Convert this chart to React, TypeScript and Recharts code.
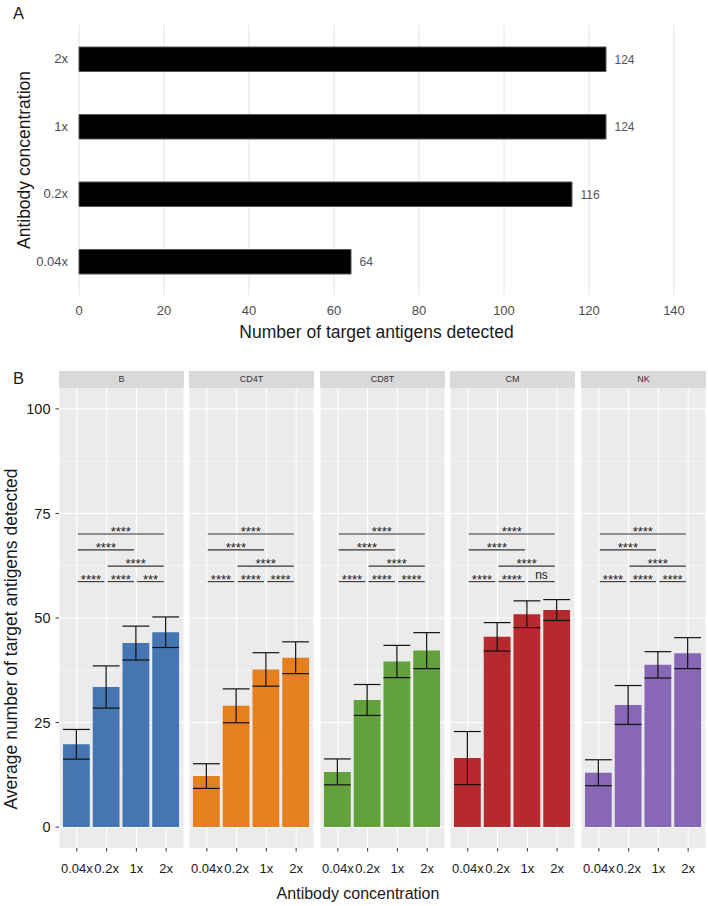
import React from 'react';
import { BarChart, Bar, XAxis, YAxis, CartesianGrid, ErrorBar, LabelList, ReferenceLine } from 'recharts';

// ---------- Panel A data ----------
const concentrations = ['0.04x', '0.2x', '1x', '2x'];
const antigenCounts = [64, 116, 124, 124];
const countTicks = [0, 20, 40, 60, 80, 100, 120, 140];

// ---------- Panel B data ----------
const cellTypes = ['B', 'CD4T', 'CD8T', 'CM', 'NK'];
const cellColors = ['#4676b2', '#e6801f', '#62a13b', '#b8292f', '#8767b6'];
const meanB = [19.8, 33.5, 44.0, 46.6];
const meanCD4T = [12.2, 29.0, 37.7, 40.5];
const meanCD8T = [13.2, 30.4, 39.6, 42.2];
const meanCM = [16.5, 45.5, 50.9, 51.9];
const meanNK = [13.0, 29.2, 38.8, 41.6];
const sdB = [3.55, 5.05, 4.05, 3.65];
const sdCD4T = [2.95, 4.05, 4.0, 3.8];
const sdCD8T = [3.1, 3.7, 3.85, 4.3];
const sdCM = [6.35, 3.4, 3.2, 2.5];
const sdNK = [3.1, 4.65, 3.15, 3.7];
const avgTicks = [0, 25, 50, 75, 100];
const avgMinorTicks = [12.5, 37.5, 62.5, 87.5];

// significance comparisons (indices into concentrations) and bracket heights
const compFrom = [0, 1, 2, 1, 0, 0];
const compTo = [1, 2, 3, 3, 2, 3];
const compY = [58.7, 58.7, 58.7, 62.4, 66.3, 70.1];
const sigB = ['****', '****', '***', '****', '****', '****'];
const sigCD4T = ['****', '****', '****', '****', '****', '****'];
const sigCD8T = ['****', '****', '****', '****', '****', '****'];
const sigCM = ['****', '****', 'ns', '****', '****', '****'];
const sigNK = ['****', '****', '****', '****', '****', '****'];

const means = [meanB, meanCD4T, meanCD8T, meanCM, meanNK];
const sds = [sdB, sdCD4T, sdCD8T, sdCM, sdNK];
const sigLabels = [sigB, sigCD4T, sigCD8T, sigCM, sigNK];

const FONT = '"Liberation Sans", Arial, Helvetica, sans-serif';
const PANEL_W = 125;
const PANEL_LEFTS = [59, 189, 320, 450, 581];
const PANEL_TOP = 388;
const PANEL_H = 460;

const rotatedTitle = (text: string, dx: number, dy: number, fontSize: number) => (props: any) => {
  const vb = props.viewBox || { x: 0, y: 0, width: 0, height: 0 };
  const cx = vb.x + dx;
  const cy = vb.y + vb.height / 2 + dy;
  return (
    <text
      x={cx}
      y={cy}
      transform={`rotate(-90 ${cx} ${cy})`}
      textAnchor="middle"
      dominantBaseline="central"
      fontSize={fontSize}
      fill="#1a1a1a"
    >
      {text}
    </text>
  );
};

const sigLabel = (text: string) => (props: any) => {
  const vb = props.viewBox || { x: 0, y: 0, width: 0, height: 0 };
  const cx = vb.x + vb.width / 2;
  const ns = text === 'ns';
  return (
    <text x={cx} y={vb.y + (ns ? -2.5 : 2.2)} textAnchor="middle" fontSize={ns ? 12 : 13} fill="#1a1a1a">
      {text}
    </text>
  );
};

function PanelA() {
  const data = concentrations.map((c, k) => ({ conc: c, count: antigenCounts[k] }));
  return (
    <div style={{ position: 'absolute', left: 0, top: 0 }}>
      <BarChart
        layout="vertical"
        width={708}
        height={345}
        data={data}
        margin={{ top: 25, right: 34, bottom: 0, left: 0 }}
      >
        <CartesianGrid horizontal={false} stroke="#e2e2e2" strokeWidth={1} />
        <XAxis
          type="number"
          domain={[0, 140]}
          ticks={countTicks}
          axisLine={false}
          tickLine={false}
          tickSize={0}
          tickMargin={10.8}
          height={50}
          tick={{ fontSize: 13, fill: '#4d4d4d' }}
          label={{
            value: 'Number of target antigens detected',
            position: 'insideBottom',
            offset: 7.5,
            fontSize: 17.5,
            fill: '#1a1a1a',
          }}
        />
        <YAxis
          type="category"
          dataKey="conc"
          reversed
          width={79}
          axisLine={false}
          tickLine={false}
          tickSize={0}
          tickMargin={11}
          tick={{ fontSize: 13, fill: '#4d4d4d' }}
          label={rotatedTitle('Antibody concentration', 23.5, 0, 17.5)}
        />
        <Bar dataKey="count" fill="#000000" stroke="#555555" strokeWidth={1} barSize={24.5} isAnimationActive={false}>
          <LabelList dataKey="count" position="right" offset={8.5} fontSize={12} fill="#555555" />
        </Bar>
      </BarChart>
    </div>
  );
}

function Facet({ i }: { i: number }) {
  const first = i === 0;
  const axisW = first ? 59 : 0;
  const data = concentrations.map((c, k) => ({ pos: k + 1, conc: c, mean: means[i][k], sd: sds[i][k] }));
  return (
    <div style={{ position: 'absolute', left: PANEL_LEFTS[i] - axisW, top: PANEL_TOP }}>
      <BarChart
        width={PANEL_W + axisW}
        height={PANEL_H + 30}
        data={data}
        margin={{ top: 0, right: 0, bottom: 0, left: 0 }}
      >
        <CartesianGrid fill="#ebebeb" stroke="#ffffff" strokeWidth={1.1} horizontalValues={avgTicks} />
        <CartesianGrid fill="none" stroke="#ffffff" strokeWidth={0.55} vertical={false} horizontalValues={avgMinorTicks} />
        <XAxis
          type="number"
          dataKey="pos"
          domain={[0.4, 4.6]}
          ticks={[1, 2, 3, 4]}
          interval={0}
          allowDataOverflow
          tickFormatter={(v: number) => concentrations[v - 1]}
          height={30}
          axisLine={false}
          tickSize={3.5}
          tickLine={{ stroke: '#333333' }}
          tickMargin={12}
          tick={{ fontSize: 13, fill: '#1a1a1a' }}
        />
        <YAxis
          type="number"
          domain={[-5, 105]}
          ticks={avgTicks}
          allowDataOverflow
          hide={!first}
          width={axisW}
          axisLine={false}
          tickSize={3.5}
          tickLine={{ stroke: '#333333' }}
          tickMargin={5}
          tick={{ fontSize: 14.5, fill: '#1a1a1a' }}
          label={first ? rotatedTitle('Average number of target antigens detected', 10.5, 21, 17.5) : undefined}
        />
        <Bar dataKey="mean" fill={cellColors[i]} barSize={26.8} isAnimationActive={false}>
          <ErrorBar dataKey="sd" width={13.4} stroke="#111111" strokeWidth={1.2} direction="y" />
        </Bar>
        {compFrom.map((f, k) => (
          <ReferenceLine
            key={k}
            segment={[
              { x: f + 1 + 0.03, y: compY[k] },
              { x: compTo[k] + 1 - 0.08, y: compY[k] },
            ]}
            stroke="#333333"
            strokeWidth={1.1}
            ifOverflow="visible"
            label={sigLabel(sigLabels[i][k])}
          />
        ))}
      </BarChart>
    </div>
  );
}

export default function App() {
  return (
    <div style={{ position: 'absolute', left: 0, top: 0, width: 708, height: 906, background: '#ffffff', fontFamily: FONT }}>
      <PanelA />
      {cellTypes.map((ct, i) => (
        <div
          key={ct}
          style={{
            position: 'absolute',
            left: PANEL_LEFTS[i],
            top: 371,
            width: PANEL_W,
            height: 17,
            background: '#d9d9d9',
            color: '#333333',
            fontSize: 9,
            lineHeight: '17px',
            textAlign: 'center',
          }}
        >
          {ct}
        </div>
      ))}
      {cellTypes.map((ct, i) => (
        <Facet key={ct} i={i} />
      ))}
      <div style={{ position: 'absolute', left: 13, top: 4.5, fontSize: 16.5, lineHeight: 1, color: '#1a1a1a' }}>A</div>
      <div style={{ position: 'absolute', left: 13, top: 370, fontSize: 16.5, lineHeight: 1, color: '#1a1a1a' }}>B</div>
      <div
        style={{
          position: 'absolute',
          left: 158,
          width: 400,
          top: 886,
          fontSize: 16,
          lineHeight: '16px',
          textAlign: 'center',
          color: '#1a1a1a',
        }}
      >
        Antibody concentration
      </div>
    </div>
  );
}
